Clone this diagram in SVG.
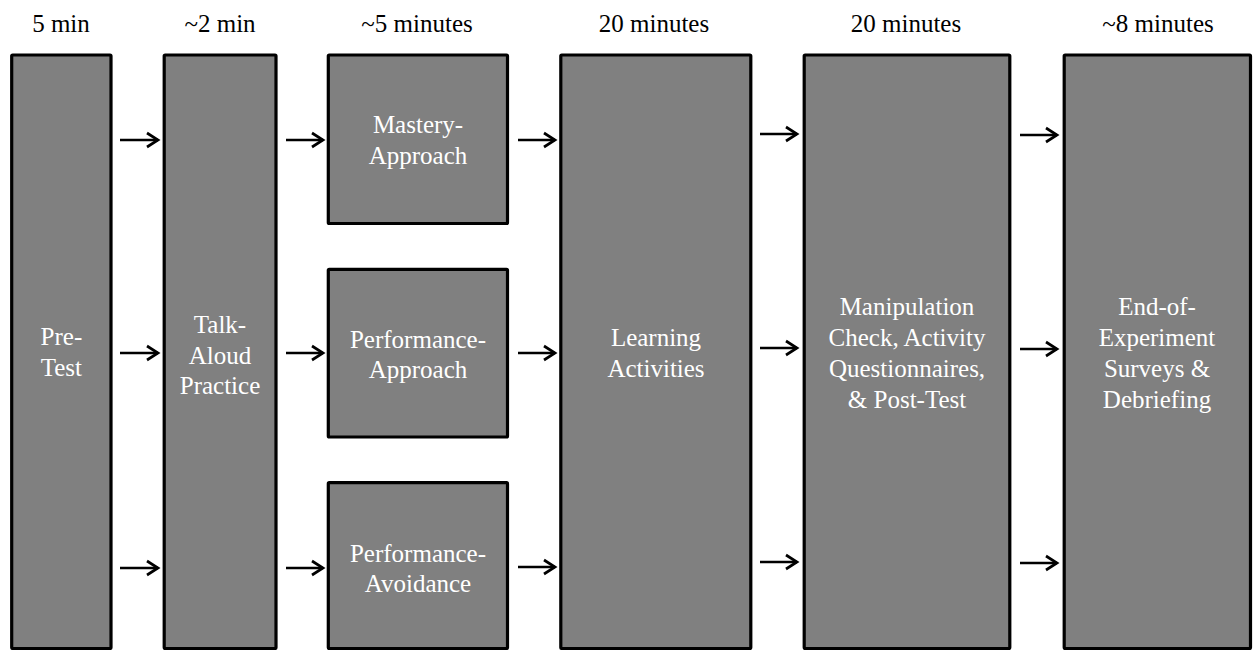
<svg xmlns="http://www.w3.org/2000/svg" width="1253" height="650" viewBox="0 0 1253 650">
<style>
.box{fill:#808080;stroke:#000;stroke-width:3.2;stroke-linejoin:round}
.arr{stroke:#000;stroke-width:2.7;fill:none;marker-end:url(#ah)}
</style>
<defs>
<marker id="ah" markerUnits="userSpaceOnUse" markerWidth="16" markerHeight="18" refX="12" refY="8" orient="auto" overflow="visible">
<path d="M1,1 L12,8 L1,15" fill="none" stroke="#000" stroke-width="2.7" stroke-linecap="butt" stroke-linejoin="miter"/>
</marker>
</defs>
<rect width="1253" height="650" fill="#fff"/>
<g id="headers" font-size="25" text-anchor="middle" fill="#000">
<text style="font-family:'Liberation Serif',serif" x="61" y="32">5 min</text>
<text style="font-family:'Liberation Serif',serif" x="220" y="32">~2 min</text>
<text style="font-family:'Liberation Serif',serif" x="417" y="32">~5 minutes</text>
<text style="font-family:'Liberation Serif',serif" x="654" y="32">20 minutes</text>
<text style="font-family:'Liberation Serif',serif" x="906" y="32">20 minutes</text>
<text style="font-family:'Liberation Serif',serif" x="1158" y="32">~8 minutes</text>
</g>
<g id="pretest" font-size="25" text-anchor="middle" fill="#fff">
<rect class="box" x="11.7" y="55" width="99.3" height="593.5" rx="1"/>
<text style="font-family:'Liberation Serif',serif" x="61.4" y="345">Pre-</text>
<text style="font-family:'Liberation Serif',serif" x="61.4" y="376">Test</text>
</g>
<g id="talkaloud" font-size="25" text-anchor="middle" fill="#fff">
<rect class="box" x="164.2" y="55" width="111.8" height="593.5" rx="1"/>
<text style="font-family:'Liberation Serif',serif" x="220" y="333">Talk-</text>
<text style="font-family:'Liberation Serif',serif" x="220" y="364">Aloud</text>
<text style="font-family:'Liberation Serif',serif" x="220" y="394">Practice</text>
</g>
<g id="mastery" font-size="25" text-anchor="middle" fill="#fff">
<rect class="box" x="328.3" y="55" width="179.2" height="168.5" rx="1"/>
<text style="font-family:'Liberation Serif',serif" x="418" y="133">Mastery-</text>
<text style="font-family:'Liberation Serif',serif" x="418" y="164">Approach</text>
</g>
<g id="perfapproach" font-size="25" text-anchor="middle" fill="#fff">
<rect class="box" x="328.3" y="269.3" width="179.2" height="167.7" rx="1"/>
<text style="font-family:'Liberation Serif',serif" x="418" y="348">Performance-</text>
<text style="font-family:'Liberation Serif',serif" x="418" y="378">Approach</text>
</g>
<g id="perfavoid" font-size="25" text-anchor="middle" fill="#fff">
<rect class="box" x="328.3" y="482.7" width="179.2" height="165.8" rx="1"/>
<text style="font-family:'Liberation Serif',serif" x="418" y="562">Performance-</text>
<text style="font-family:'Liberation Serif',serif" x="418" y="592">Avoidance</text>
</g>
<g id="learning" font-size="25" text-anchor="middle" fill="#fff">
<rect class="box" x="560.8" y="55" width="190" height="593.5" rx="1"/>
<text style="font-family:'Liberation Serif',serif" x="656" y="346">Learning</text>
<text style="font-family:'Liberation Serif',serif" x="656" y="377">Activities</text>
</g>
<g id="manipulation" font-size="25" text-anchor="middle" fill="#fff">
<rect class="box" x="804.2" y="55" width="205.6" height="593.5" rx="1"/>
<text style="font-family:'Liberation Serif',serif" x="907" y="315">Manipulation</text>
<text style="font-family:'Liberation Serif',serif" x="907" y="346">Check, Activity</text>
<text style="font-family:'Liberation Serif',serif" x="907" y="377">Questionnaires,</text>
<text style="font-family:'Liberation Serif',serif" x="907" y="408">&amp; Post-Test</text>
</g>
<g id="endexp" font-size="25" text-anchor="middle" fill="#fff">
<rect class="box" x="1064.2" y="55" width="186.3" height="593.5" rx="1"/>
<text style="font-family:'Liberation Serif',serif" x="1157" y="315">End-of-</text>
<text style="font-family:'Liberation Serif',serif" x="1157" y="346">Experiment</text>
<text style="font-family:'Liberation Serif',serif" x="1157" y="377">Surveys &amp;</text>
<text style="font-family:'Liberation Serif',serif" x="1157" y="408">Debriefing</text>
</g>
<g id="connectors">
<path class="arr" d="M120 140 H158"/>
<path class="arr" d="M120 353 H158"/>
<path class="arr" d="M120 568 H158"/>
<path class="arr" d="M286 140 H323"/>
<path class="arr" d="M286 353 H323"/>
<path class="arr" d="M286 568 H323"/>
<path class="arr" d="M518 140 H555"/>
<path class="arr" d="M518 353 H555"/>
<path class="arr" d="M518 567 H555"/>
<path class="arr" d="M760 134 H797"/>
<path class="arr" d="M760 348 H797"/>
<path class="arr" d="M760 562 H797"/>
<path class="arr" d="M1020 135 H1057"/>
<path class="arr" d="M1020 349 H1057"/>
<path class="arr" d="M1020 563 H1057"/>
</g>
</svg>
